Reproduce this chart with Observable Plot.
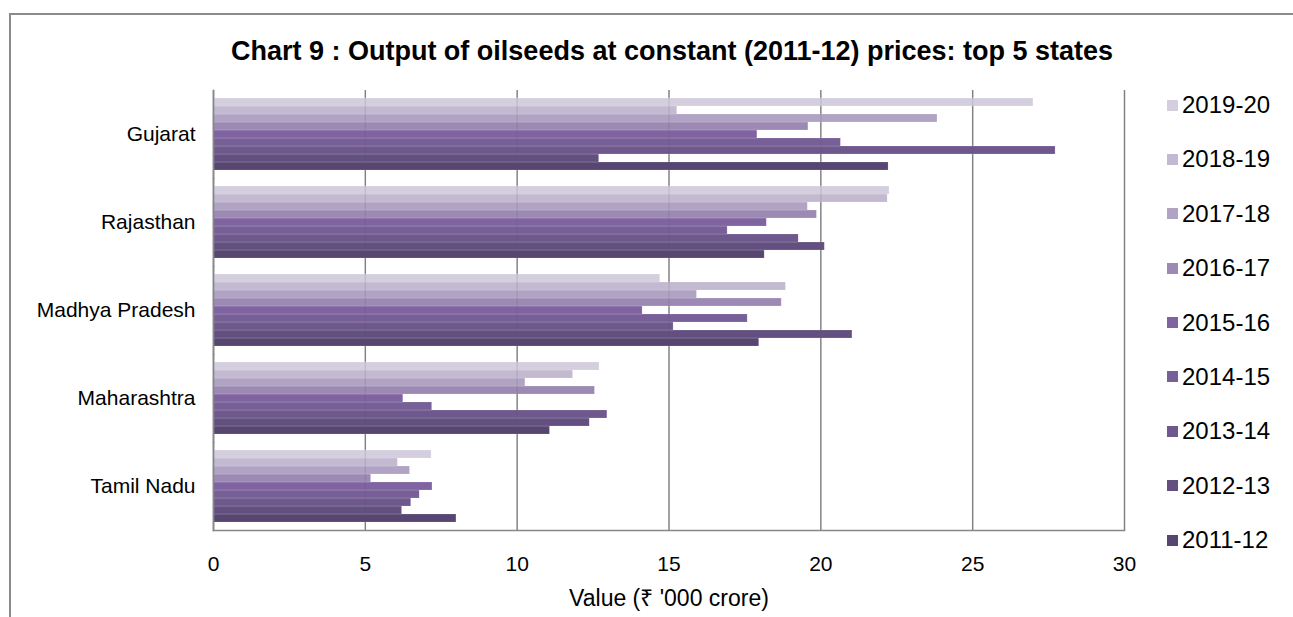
<!DOCTYPE html>
<html><head><meta charset="utf-8">
<script src="https://cdn.jsdelivr.net/npm/d3@7"></script>
<script src="https://cdn.jsdelivr.net/npm/@observablehq/plot@0.6"></script>
<style>
body{margin:0;background:#fff;font-family:"Liberation Sans",Arial,sans-serif;}
#wrap{position:relative;width:1293px;height:617px;overflow:hidden;}
#border{position:absolute;left:9px;top:13px;width:1300px;height:620px;border-top:2px solid #8a8a8a;border-left:2px solid #8a8a8a;box-sizing:border-box;}
#title{position:absolute;left:0;top:36px;width:1344px;text-align:center;font-weight:bold;font-size:27px;color:#000;}
#chart{position:absolute;left:0;top:0;}
#legend{position:absolute;left:1167px;top:91px;}
.item{display:flex;align-items:center;height:28px;margin-bottom:26.4px;font-size:24px;color:#000;}
.sw{width:11px;height:11px;margin-right:4px;}
</style></head>
<body><div id="wrap"><div id="border"></div><div id="title"></div><div id="chart"></div><div id="legend"></div></div>
<script>
const titleText = "Chart 9 : Output of oilseeds at constant (2011-12) prices: top 5 states";
const xLabel = "Value (₹ '000 crore)";
const states = ["Gujarat", "Rajasthan", "Madhya Pradesh", "Maharashtra", "Tamil Nadu"];
const years = ["2011-12", "2012-13", "2013-14", "2014-15", "2015-16", "2016-17", "2017-18", "2018-19", "2019-20"];
const xTicks = [0, 5, 10, 15, 20, 25, 30];
// values per year, in the order of states
const v2011_12 = [22.23, 18.15, 17.97, 11.08, 8.00];
const v2012_13 = [12.70, 20.13, 21.04, 12.39, 6.21];
const v2013_14 = [27.73, 19.27, 15.15, 12.97, 6.51];
const v2014_15 = [20.66, 16.93, 17.59, 7.20, 6.79];
const v2015_16 = [17.91, 18.22, 14.13, 6.25, 7.21];
const v2016_17 = [19.59, 19.87, 18.71, 12.56, 5.19];
const v2017_18 = [23.84, 19.57, 15.92, 10.27, 6.47];
const v2018_19 = [15.27, 22.20, 18.85, 11.84, 6.07];
const v2019_20 = [27.00, 22.26, 14.71, 12.71, 7.18];
const colors = ["#574672", "#635080", "#6e588d", "#775f98", "#8064a2", "#9c8ab4", "#b0a3c4", "#c3b9d0", "#d4cedf"];

const series = [v2011_12, v2012_13, v2013_14, v2014_15, v2015_16, v2016_17, v2017_18, v2018_19, v2019_20];
const rows = [];
states.forEach((s, i) => years.forEach((y, j) => rows.push({state: s, year: y, value: series[j][i]})));

document.getElementById("title").textContent = titleText;

const chart = Plot.plot({
  width: 1293, height: 617,
  marginLeft: 213, marginRight: 169, marginTop: 88, marginBottom: 85,
  style: {fontFamily: '"Liberation Sans", Arial, sans-serif', fontSize: "21px", color: "#000", background: "transparent"},
  x: {domain: [0, 30]},
  y: {domain: years.slice().reverse(), paddingInner: 0, paddingOuter: 0.78, axis: null},
  fy: {domain: states, padding: 0, axis: null},
  color: {domain: years, range: colors},
  marks: [
    Plot.gridX(xTicks, {stroke: "#878787", strokeOpacity: 1, strokeWidth: 1.4}),
    Plot.barX(rows, {fy: "state", y: "year", x: "value", fill: "year", stroke: "#ffffff", strokeOpacity: 0.22, strokeWidth: 0.7}),
    Plot.gridX(xTicks, {stroke: "#555", strokeOpacity: 0.15, strokeWidth: 1.4}),
    Plot.frame({anchor: "left", stroke: "#878787", strokeWidth: 1.6}),
    Plot.frame({anchor: "bottom", facetAnchor: "bottom", stroke: "#878787", strokeWidth: 1.6}),
    Plot.axisX(xTicks, {tickSize: 0, tickPadding: 26, fontSize: 21, label: null}),
    Plot.axisX([], {tickSize: 0, fontSize: 23, label: xLabel, labelAnchor: "center", labelArrow: "none", labelOffset: 75}),
    Plot.axisFy({anchor: "left", tickSize: 0, tickPadding: 18, fontSize: 21, label: null})
  ]
});
document.getElementById("chart").appendChild(chart);

const legend = document.getElementById("legend");
years.slice().reverse().forEach((y) => {
  const it = document.createElement("div"); it.className = "item";
  const sw = document.createElement("div"); sw.className = "sw";
  sw.style.background = colors[years.indexOf(y)];
  const t = document.createElement("span"); t.textContent = y;
  it.appendChild(sw); it.appendChild(t); legend.appendChild(it);
});
</script></body></html>
